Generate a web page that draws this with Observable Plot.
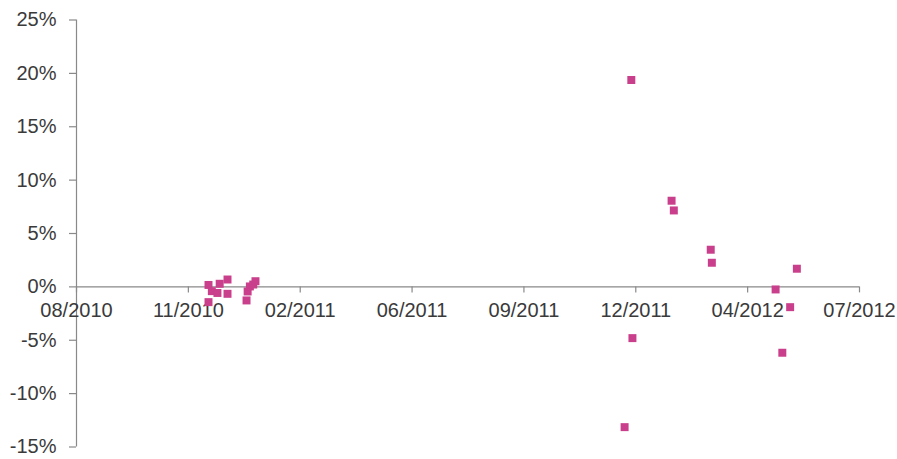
<!DOCTYPE html>
<html><head><meta charset="utf-8">
<script src="https://cdn.jsdelivr.net/npm/d3@7"></script>
<script src="https://cdn.jsdelivr.net/npm/@observablehq/plot@0.6"></script>
<style>body{margin:0;background:#fff}</style>
</head><body><div id="chart"></div>
<script>
const dates = [
  "2010-12-06","2010-12-06","2010-12-09","2010-12-16","2010-12-14","2010-12-23","2010-12-23",
  "2011-01-09","2011-01-10","2011-01-12","2011-01-15","2011-01-17",
  "2011-12-19","2011-12-13","2011-12-20","2012-01-24","2012-01-26","2012-02-28","2012-02-29",
  "2012-04-26","2012-05-02","2012-05-09","2012-05-15"
];
const values = [
  0.18,-1.43,-0.40,0.29,-0.57,0.69,-0.65,
  -1.27,-0.43,0.04,0.22,0.53,
  19.38,-13.14,-4.80,8.07,7.16,3.48,2.26,
  -0.24,-6.17,-1.90,1.70
];
const xTickDates = ["2010-08-10","2010-11-18","2011-02-26","2011-06-06","2011-09-14","2011-12-23","2012-04-01","2012-07-10"];
const xTickLabels = ["08/2010","11/2010","02/2011","06/2011","09/2011","12/2011","04/2012","07/2012"];
const yTicks = [-15,-10,-5,0,5,10,15,20,25];
const yTickLabels = ["-15%","-10%","-5%","0%","5%","10%","15%","20%","25%"];

const points = dates.map((d, i) => ({date: new Date(d), value: values[i]}));
const xTicks = xTickDates.map((d, i) => ({date: new Date(d), label: xTickLabels[i]}));
const axisColor = "#898989";
const textColor = "#3a3a3a";

const chart = Plot.plot({
  width: 897,
  height: 459,
  marginLeft: 76,
  marginRight: 38,
  marginTop: 19.5,
  marginBottom: 12.5,
  style: {fontFamily: "'Liberation Sans', Arial, sans-serif", fontSize: "20px", background: "#fff"},
  x: {type: "utc", domain: [xTicks[0].date, xTicks[xTicks.length - 1].date], axis: null},
  y: {domain: [yTicks[0], yTicks[yTicks.length - 1]], axis: null},
  marks: [
    Plot.ruleX([xTicks[0].date], {stroke: axisColor, strokeWidth: 1.2}),
    Plot.ruleY(yTicks, {y: d => d, x1: () => xTicks[0].date, x2: () => xTicks[0].date, insetLeft: -7, stroke: axisColor, strokeWidth: 1.2}),
    Plot.text(yTicks, {y: d => d, x: () => xTicks[0].date, text: (d, i) => yTickLabels[i], textAnchor: "end", dx: -20, fill: textColor, fontSize: 20}),
    Plot.ruleY([0], {stroke: axisColor, strokeWidth: 1.2}),
    Plot.ruleX(xTicks, {x: "date", y1: () => 0, y2: () => 0, insetBottom: -6, stroke: axisColor, strokeWidth: 1.2}),
    Plot.text(xTicks, {x: "date", y: () => 0, text: "label", dy: 24, fill: textColor, fontSize: 20}),
    Plot.dot(points, {x: "date", y: "value", symbol: "square", r: 4.5, fill: "#c93f8b", stroke: "none"})
  ]
});
document.getElementById("chart").appendChild(chart);
</script>
</body></html>
